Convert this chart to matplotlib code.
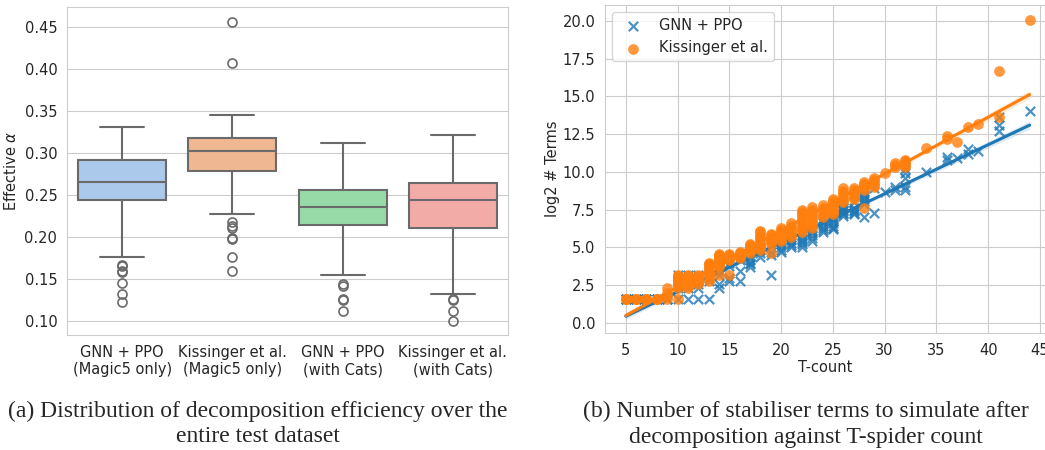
import numpy as np
import matplotlib
matplotlib.use("Agg")
import matplotlib.pyplot as plt
import seaborn as sns

# ---------------- data: panel (a) box statistics ----------------
box_labels = ["GNN + PPO\n(Magic5 only)", "Kissinger et al.\n(Magic5 only)",
              "GNN + PPO\n(with Cats)", "Kissinger et al.\n(with Cats)"]
box_q1 = [0.244, 0.279, 0.2147, 0.211]
box_med = [0.266, 0.302, 0.2357, 0.2437]
box_q3 = [0.292, 0.3175, 0.2556, 0.2647]
box_whislo = [0.176, 0.227, 0.1544, 0.1325]
box_whishi = [0.331, 0.345, 0.312, 0.3214]
box_fliers = [
    [0.167, 0.165, 0.159, 0.158, 0.145, 0.132, 0.123],
    [0.456, 0.4075, 0.2175, 0.2135, 0.211, 0.199, 0.198, 0.1766, 0.159],
    [0.1437, 0.142, 0.1258, 0.125, 0.1119],
    [0.1262, 0.125, 0.1119, 0.1004],
]
alpha_ticks = [0.10, 0.15, 0.20, 0.25, 0.30, 0.35, 0.40, 0.45]

# ---------------- data: panel (b) scatter (T-count, log2 # terms) ----------------
gnn_tcount = ([5] * 3 + [6] * 3 + [7] * 3 + [8] * 3 + [9] * 3
              + [10] * 6 + [11] * 6 + [12] * 6 + [13] * 6 + [14] * 6 + [15] * 4 + [16] * 4
              + [17] * 5 + [18] * 4 + [19] * 3 + [20] * 5 + [21] * 5 + [22] * 7 + [23] * 6
              + [24] * 7 + [25] * 7 + [26] * 8 + [27] * 6 + [28] * 7 + [29] * 2 + [30]
              + [31] * 2 + [32] * 5 + [34] + [36] * 2 + [37] + [38] * 2 + [39] + [41] * 3 + [44])
gnn_log2_terms = ([1.585] * 15
                  + [1.585, 2.32, 2.58, 2.81, 3.0, 3.17]
                  + [1.585, 2.32, 2.58, 2.81, 3.0, 3.17]
                  + [1.585, 2.32, 2.58, 2.81, 3.0, 3.17]
                  + [1.585, 2.81, 3.0, 3.17, 3.46, 3.7]
                  + [2.32, 2.58, 3.17, 3.46, 3.7, 4.0]
                  + [2.81, 3.0, 3.8, 4.0]
                  + [2.81, 3.46, 4.17, 4.32]
                  + [3.7, 3.9, 4.0, 4.17, 4.4]
                  + [4.4, 4.6, 4.8, 5.0]
                  + [3.17, 4.5, 4.7]
                  + [4.7, 4.85, 5.0, 5.2, 5.4]
                  + [5.0, 5.15, 5.3, 5.5, 5.7]
                  + [5.0, 5.2, 5.35, 5.5, 5.65, 5.8, 6.0]
                  + [5.4, 5.6, 5.8, 6.0, 6.1, 6.3]
                  + [6.0, 6.15, 6.3, 6.45, 6.6, 6.75, 6.9]
                  + [6.2, 6.3, 6.45, 6.6, 6.75, 6.9, 7.0]
                  + [7.1, 7.2, 7.3, 7.4, 7.5, 7.6, 7.7, 8.0]
                  + [7.2, 7.3, 7.4, 7.5, 7.6, 8.0]
                  + [7.0, 7.9, 8.05, 8.2, 8.35, 8.5, 8.7]
                  + [7.3, 8.9] + [8.7] + [8.8, 9.0] + [8.8, 9.0, 9.6, 9.9, 10.2] + [10.0]
                  + [10.8, 11.0] + [10.9] + [11.2, 11.5] + [11.4] + [12.7, 13.1, 13.6] + [14.0])

kis_tcount = ([5] * 3 + [6] * 3 + [7] * 3 + [8] * 3 + [9] * 4 + [10] * 10 + [11] * 9 + [12] * 7
              + [13] * 10 + [14] * 13 + [15] * 8 + [16] * 7 + [17] * 7 + [18] * 10 + [19] * 7
              + [20] * 7 + [21] * 7 + [22] * 11 + [23] * 10 + [24] * 6 + [25] * 8 + [26] * 7
              + [27] * 6 + [28] * 6 + [29] * 5 + [30] + [31] * 3 + [32] * 5 + [34] + [36] * 2
              + [37] + [38] + [39] + [41] * 2 + [44])
kis_log2_terms = ([1.585] * 12
                  + [1.585, 1.8, 2.0, 2.32]
                  + [1.585, 2.32, 2.45, 2.58, 2.7, 2.81, 2.9, 3.0, 3.09, 3.17]
                  + [2.32, 2.45, 2.58, 2.7, 2.81, 2.9, 3.0, 3.09, 3.17]
                  + [2.58, 2.7, 2.81, 2.9, 3.0, 3.09, 3.17]
                  + [2.81, 3.0, 3.17, 3.32, 3.46, 3.58, 3.7, 3.81, 3.91, 4.0]
                  + [3.17, 3.7, 3.81, 3.91, 4.0, 4.09, 4.17, 4.25, 4.32, 4.39, 4.46, 4.52, 4.58]
                  + [3.17, 4.17, 4.25, 4.32, 4.39, 4.46, 4.52, 4.58]
                  + [4.32, 4.39, 4.46, 4.52, 4.58, 4.64, 4.7]
                  + [4.64, 4.75, 4.86, 4.95, 5.05, 5.15, 5.25]
                  + [4.8, 4.95, 5.1, 5.25, 5.4, 5.55, 5.7, 5.85, 6.0, 6.1]
                  + [4.64, 5.2, 5.35, 5.5, 5.65, 5.8, 5.9]
                  + [5.4, 5.55, 5.7, 5.85, 6.0, 6.15, 6.3]
                  + [5.7, 5.85, 6.0, 6.15, 6.3, 6.45, 6.6]
                  + [6.0, 6.15, 6.3, 6.45, 6.6, 6.75, 6.9, 7.05, 7.2, 7.35, 7.5]
                  + [6.3, 6.45, 6.6, 6.75, 6.9, 7.05, 7.2, 7.35, 7.5, 7.7]
                  + [7.0, 7.15, 7.3, 7.45, 7.6, 7.8]
                  + [7.2, 7.35, 7.5, 7.65, 7.8, 7.95, 8.1, 8.2]
                  + [8.0, 8.15, 8.3, 8.45, 8.6, 8.75, 8.9]
                  + [8.2, 8.35, 8.5, 8.65, 8.8, 8.9]
                  + [7.6, 8.8, 8.95, 9.1, 9.2, 9.3]
                  + [9.0, 9.15, 9.3, 9.45, 9.6]
                  + [9.9]
                  + [10.3, 10.45, 10.6]
                  + [10.3, 10.45, 10.6, 10.7, 10.8]
                  + [11.6] + [12.2, 12.4] + [12.0] + [13.0] + [13.2] + [13.6, 16.7] + [20.05])

tcount_ticks = [5, 10, 15, 20, 25, 30, 35, 40, 45]
terms_ticks = [0.0, 2.5, 5.0, 7.5, 10.0, 12.5, 15.0, 17.5, 20.0]

# ---------------- style ----------------
sns.set_style("whitegrid")
plt.rcParams["font.family"] = ["DejaVu Sans"]
plt.rcParams["font.size"] = 10.5

fig = plt.figure(figsize=(10.45, 4.5), dpi=100)

# ---------------- panel (a) ----------------
axa = fig.add_axes([0.0641, 0.2556, 0.4220, 0.7290])
pal = [sns.desaturate(c, 0.75) for c in sns.color_palette("pastel")[:4]]
line_col = "#6a6a6a"
stats = []
for i in range(len(box_labels)):
    stats.append(dict(med=box_med[i], q1=box_q1[i], q3=box_q3[i],
                      whislo=box_whislo[i], whishi=box_whishi[i],
                      fliers=box_fliers[i]))
bp = axa.bxp(stats, positions=range(len(box_labels)), widths=0.8, capwidths=0.4,
             patch_artist=True, showfliers=True,
             boxprops=dict(edgecolor=line_col, linewidth=1.5),
             whiskerprops=dict(color=line_col, linewidth=1.5),
             capprops=dict(color=line_col, linewidth=1.5),
             medianprops=dict(color=line_col, linewidth=1.5),
             flierprops=dict(marker="o", markerfacecolor="none",
                             markeredgecolor=line_col, markersize=6.5,
                             markeredgewidth=1.2))
for patch, c in zip(bp["boxes"], pal):
    patch.set_facecolor(c)
axa.set_xlim(-0.5, 3.5)
axa.set_ylim(0.0833, 0.4742)
axa.set_yticks(alpha_ticks)
axa.set_yticklabels([f"{t:.2f}" for t in alpha_ticks])
axa.set_xticks(range(len(box_labels)))
axa.set_xticklabels(box_labels)
axa.xaxis.grid(False)
axa.set_ylabel(r"Effective $\alpha$")
axa.tick_params(labelsize=10.5)

# ---------------- panel (b) ----------------
axb = fig.add_axes([0.5790, 0.2600, 0.4210, 0.7289])
c0, c1 = "#1f77b4", "#ff7f0e"


def fit_and_band(x, y):
    x = np.asarray(x, float)
    y = np.asarray(y, float)
    b, a = np.polyfit(x, y, 1)
    xs = np.linspace(x.min(), x.max(), 100)
    ys = a + b * xs
    resid = y - (a + b * x)
    n = len(x)
    s = np.sqrt(np.sum(resid ** 2) / (n - 2))
    se = s * np.sqrt(1.0 / n + (xs - x.mean()) ** 2 / np.sum((x - x.mean()) ** 2))
    return xs, ys, 1.96 * se


axb.scatter(gnn_tcount, gnn_log2_terms, marker="x", s=45, color=c0, alpha=0.8,
            linewidths=1.6, label="GNN + PPO", zorder=2)
xs, ys, ci = fit_and_band(gnn_tcount, gnn_log2_terms)
axb.plot(xs, ys, color=c0, lw=2.2, zorder=3)
axb.fill_between(xs, ys - ci, ys + ci, color=c0, alpha=0.15, lw=0, zorder=1)

axb.scatter(kis_tcount, kis_log2_terms, marker="o", s=60, color=c1, alpha=0.8,
            linewidths=0, label="Kissinger et al.", zorder=4)
xs, ys, ci = fit_and_band(kis_tcount, kis_log2_terms)
axb.plot(xs, ys, color=c1, lw=2.2, zorder=5)
axb.fill_between(xs, ys - ci, ys + ci, color=c1, alpha=0.15, lw=0, zorder=4)

axb.set_xlim(3.0, 45.48)
axb.set_ylim(-0.66, 21.04)
axb.set_xticks(tcount_ticks)
axb.set_yticks(terms_ticks)
axb.set_yticklabels([f"{t:.1f}" for t in terms_ticks])
axb.set_xlabel("T-count", labelpad=2)
axb.set_ylabel("log2 # Terms", labelpad=2)
axb.tick_params(labelsize=10.5)
axb.legend(loc="upper left", fontsize=10.5, frameon=True)

# ---------------- captions ----------------
cap = dict(family="Liberation Serif", fontsize=17, ha="center", va="center")
fig.text(0.247, 1 - 411 / 450, "(a) Distribution of decomposition efficiency over the", **cap)
fig.text(0.247, 1 - 437 / 450, "entire test dataset", **cap)
fig.text(0.771, 1 - 411 / 450, "(b) Number of stabiliser terms to simulate after", **cap)
fig.text(0.771, 1 - 437 / 450, "decomposition against T-spider count", **cap)

fig.savefig("out.png", dpi=100)
